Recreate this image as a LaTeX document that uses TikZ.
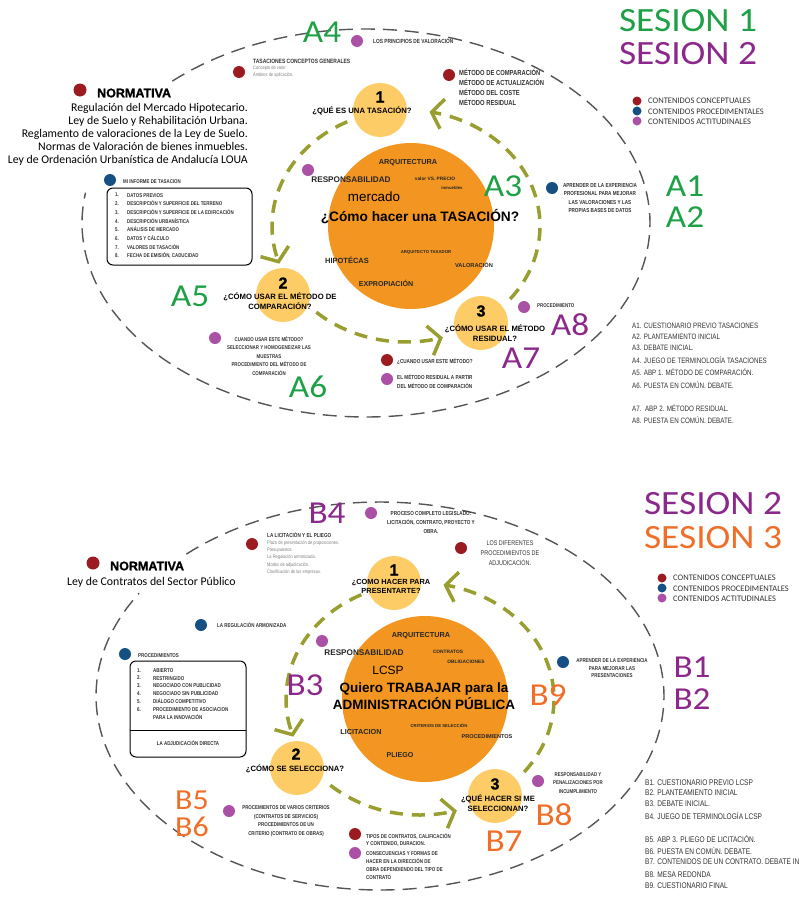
\documentclass[tikz,border=0pt]{standalone}
\usepackage{fontspec}
\setmainfont{Liberation Sans}
\newfontfamily\narf{Liberation Sans}[FakeStretch=0.8]
\newfontfamily\calf{Carlito}
\newfontfamily\handf{Carlito}[FakeStretch=1.1]
\newfontfamily\blackf{Liberation Sans Bold}[FakeBold=1.2]
\usetikzlibrary{arrows.meta}
\definecolor{dred}{RGB}{155,27,32}
\definecolor{dblue}{RGB}{22,80,130}
\definecolor{dpurp}{RGB}{170,80,165}
\definecolor{yel}{RGB}{253,204,102}
\definecolor{orng}{RGB}{243,150,33}
\definecolor{olivec}{RGB}{152,158,48}
\definecolor{hgreen}{RGB}{30,160,70}
\definecolor{hpurp}{RGB}{140,40,140}
\definecolor{horange}{RGB}{240,110,40}
\definecolor{ellgray}{RGB}{85,85,85}
\definecolor{txtg}{RGB}{50,50,50}
\newcommand\fsz[2]{\fontsize{#1}{#2}\selectfont}
\tikzset{
 dotc/.style={circle,inner sep=0pt,minimum size=12pt},
 rdot/.style={dotc,fill=dred}, bdot/.style={dotc,fill=dblue}, pdot/.style={dotc,fill=dpurp},
 ldot/.style={minimum size=9pt},
 hw/.style={font=\handf\fsz{32}{32}, inner sep=0pt, text height=20.5pt, text depth=0pt},
 hws/.style={font=\handf\fsz{29}{29}, inner sep=0pt, text height=18.6pt, text depth=0pt},
 sesion/.style={font=\handf\fsz{34}{34}, inner sep=0pt, text height=21.9pt, text depth=0pt},
 lbl/.style={font=\narf\bfseries\fsz{6}{8.5}, inner sep=0pt, align=left, anchor=west, text=txtg},
 clbl/.style={font=\narf\bfseries\fsz{6}{8.5}, inner sep=0pt, align=center, text=txtg},
 greyt/.style={font=\narf\fsz{5}{7.4}, text=gray, inner sep=0pt, align=left, anchor=west},
 wrd/.style={font=\bfseries\fsz{7.3}{9}, inner sep=0pt, text=black!85},
 qst/.style={font=\bfseries\fsz{7.7}{10}, inner sep=0pt, align=center},
 numl/.style={font=\blackf\fsz{16}{16}, inner sep=0pt},
 smallc/.style={circle, fill=yel, minimum size=54pt, inner sep=0pt},
 bigc/.style={circle, fill=orng, minimum size=166pt, inner sep=0pt},
 outerell/.style={draw=ellgray, line width=1.4pt, dash pattern=on 14pt off 8pt},
 flow/.style={draw=olivec, line width=3.5pt, dash pattern=on 13pt off 9pt, -{Straight Barb[length=11pt,width=30pt]}},
 legt/.style={font=\calf\fsz{8.5}{10}, anchor=west, inner sep=0pt, text=txtg},
 listt/.style={font=\narf\fsz{7.8}{9}, anchor=west, inner sep=0pt, text=txtg},
 normt/.style={font=\calf\fsz{11.8}{13}, anchor=base east, inner sep=0pt},
 normh/.style={font=\blackf\fsz{12.5}{13}, anchor=west, inner sep=0pt},
}
\begin{document}
\begin{tikzpicture}[x=1pt,y=-1pt]
\useasboundingbox (0,0) rectangle (799,899);
% ================= TOP =================
\draw[outerell] plot[domain=227:549,samples=200,variable=\t] ({366+284*cos(\t)},{223+194*sin(\t)});
\draw[flow] plot[domain=0:1,samples=60,variable=\s] ({406+134*cos(244-83*\s)},{226+116*sin(244-83*\s)});
\draw[flow] plot[domain=0:1,samples=60,variable=\s] ({406+134*cos(132-58*\s)},{226+116*sin(132-58*\s)});
\draw[flow] plot[domain=0:1,samples=80,variable=\s] ({406+134*cos(39-119*\s)},{226+116*sin(39-119*\s)});
\node[bigc] (coreA) at (411,226) {};
\node[smallc] (a1) at (380,110) {};
\node[smallc] (a2) at (283,295) {};
\node[smallc] (a3) at (481,323) {};
\node[numl] (a1n) at (380,97) {1};
\node[qst] (a1q) at (362,111) {¿QUÉ ES UNA TASACIÓN?};
\node[numl] (a2n) at (283,283) {2};
\node[qst] (a2q) at (280,301.5) {¿CÓMO USAR EL MÉTODO DE\\COMPARACIÓN?};
\node[numl] (a3n) at (481,311) {3};
\node[qst] (a3q) at (495,333.5) {¿CÓMO USAR EL MÉTODO\\RESIDUAL?};
% words in core
\node[wrd] (aw1) at (408,163) {ARQUITECTURA};
\node[wrd,font=\bfseries\fsz{8.2}{9}] (aw2) at (351,180) {RESPONSABILIDAD};
\node[wrd,font=\bfseries\fsz{4.8}{5}] (aw3) at (435,179) {valor VS. PRECIO};
\node[wrd,font=\bfseries\fsz{4.3}{5}] (aw4) at (452,188) {inmuebles};
\node[inner sep=0pt,font=\fsz{13.4}{14}] (aw5) at (374,197) {mercado};
\node[inner sep=0pt,font=\bfseries\fsz{13.7}{14}] (aw6) at (420,217) {¿Cómo hacer una TASACIÓN?};
\node[wrd,font=\bfseries\fsz{4.3}{5}] (aw7) at (426,252) {ARQUITECTO TASADOR};
\node[wrd,font=\bfseries\fsz{7.5}{9}] (aw8) at (347,260) {HIPOTÉCAS};
\node[wrd,font=\bfseries\fsz{5.7}{7}] (aw9) at (474,265) {VALORACIÓN};
\node[wrd,font=\bfseries\fsz{7.1}{9}] (aw10) at (386,283) {EXPROPIACIÓN};
% dots and labels
\node[pdot] (ad1) at (357,41) {};
\node[lbl] (al1) at (373,41) {LOS PRINCIPIOS DE VALORACIÓN};
\node[rdot] (ad2) at (239,72) {};
\node[lbl,font=\narf\bfseries\fsz{6.2}{8}] (al2) at (253,61) {TASACIONES CONCEPTOS GENERALES};
\node[greyt] (al2b) at (253,72) {Concepto de valor\\Ámbitos de aplicación.};
\node[rdot,minimum size=13pt] (ad3) at (80,90) {};
\node[normh] (anorm) at (97,93) {NORMATIVA};
\node[normt] (an1) at (248,111) {Regulación del Mercado Hipotecario.};
\node[normt] (an2) at (248,124) {Ley de Suelo y Rehabilitación Urbana.};
\node[normt] (an3) at (248,137) {Reglamento de valoraciones de la Ley de Suelo.};
\node[normt] (an4) at (248,150) {Normas de Valoración de bienes inmuebles.};
\node[normt] (an5) at (248,163) {Ley de Ordenación Urbanística de Andalucía LOUA};
\node[rdot] (ad4) at (449,75) {};
\node[lbl,font=\narf\bfseries\fsz{7.3}{10}] (al4) at (459,87) {MÉTODO DE COMPARACIÓN\\MÉTODO DE ACTUALIZACIÓN\\MÉTODO DEL COSTE\\MÉTODO RESIDUAL};
\node[rdot,ldot] (alg1) at (637,101) {};
\node[bdot,ldot] (alg2) at (637,111) {};
\node[pdot,ldot] (alg3) at (637,121) {};
\node[legt] (alt1) at (648,101) {CONTENIDOS CONCEPTUALES};
\node[legt] (alt2) at (648,111.5) {CONTENIDOS PROCEDIMENTALES};
\node[legt] (alt3) at (648,122) {CONTENIDOS ACTITUDINALES};
\node[sesion,text=hgreen] (as1) at (688,21) {SESION 1};
\node[sesion,text=hpurp] (as2) at (688,54) {SESION 2};
\node[hw,text=hgreen] (hA4) at (322,32) {A4};
\node[hw,text=hgreen] (hA3) at (503,186) {A3};
\node[hw,text=hgreen] (hA1) at (685,186) {A1};
\node[hw,text=hgreen] (hA2) at (685,217) {A2};
\node[hw,text=hgreen] (hA5) at (190,296) {A5};
\node[hw,text=hgreen] (hA6) at (308,387) {A6};
\node[hw,text=hpurp] (hA7) at (521,358) {A7};
\node[hw,text=hpurp] (hA8) at (570,325) {A8};
\node[pdot] (ad5) at (308,170) {};
\node[bdot] (ad6) at (552,188) {};
\node[clbl,font=\narf\bfseries\fsz{5.8}{8.3}] (al6) at (600,198) {APRENDER DE LA EXPERIENCIA\\PROFESIONAL PARA MEJORAR\\LAS VALORACIONES Y LAS\\PROPIAS BASES DE DATOS};
\node[bdot] (ad7) at (110,180) {};
\node[lbl,font=\narf\bfseries\fsz{5.5}{8}] (al7) at (123,182) {MI INFORME DE TASACION};
\draw[line width=1pt,rounded corners=6pt] (107,188) rectangle (252,265);
\node[lbl,font=\narf\bfseries\fsz{5.5}{8.7},anchor=north west] (al7n) at (115,193) {1.\\2.\\3.\\4.\\5.\\6.\\7.\\8.};
\node[lbl,font=\narf\bfseries\fsz{5.5}{8.7},anchor=north west] (al7t) at (127,193) {DATOS PREVIOS\\DESCRIPCIÓN Y SUPERFICIE DEL TERRENO\\DESCRIPCIÓN Y SUPERFICIE DE LA EDIFICACIÓN\\DESCRIPCIÓN URBANÍSTICA\\ANÁLISIS DE MERCADO\\DATOS Y CÁLCULO\\VALORES DE TASACIÓN\\FECHA DE EMISIÓN, CADUCIDAD};
\node[pdot] (ad8) at (215,338) {};
\node[clbl,font=\narf\bfseries\fsz{5.5}{8.5}] (al8) at (269,356) {CUANDO USAR ESTE MÉTODO?\\SELECCIONAR Y HOMOGENEIZAR LAS\\MUESTRAS\\PROCEDIMIENTO DEL MÉTODO DE\\COMPARACIÓN};
\node[rdot] (ad9) at (387,360) {};
\node[lbl,font=\narf\bfseries\fsz{5.8}{9}] (al9) at (397,361) {¿CUANDO USAR ESTE MÉTODO?};
\node[pdot] (ad10) at (387,379) {};
\node[lbl,font=\narf\bfseries\fsz{5.8}{9}] (al10) at (397,381.5) {EL MÉTODO RESIDUAL A PARTIR\\DEL MÉTODO DE COMPARACIÓN};
\node[pdot] (ad11) at (524,307) {};
\node[lbl,font=\narf\bfseries\fsz{5.5}{8}] (al11) at (537,306) {PROCEDIMIENTO};
\node[listt] (aL1) at (632,326) {A1. CUESTIONARIO PREVIO TASACIONES};
\node[listt] (aL2) at (632,337) {A2. PLANTEAMIENTO INICIAL};
\node[listt] (aL3) at (632,348) {A3. DEBATE INICIAL.};
\node[listt] (aL4) at (632,360) {A4. JUEGO DE TERMINOLOGÍA TASACIONES};
\node[listt] (aL5) at (632,372) {A5. ABP 1. MÉTODO DE COMPARACIÓN.};
\node[listt] (aL6) at (632,385) {A6. PUESTA EN COMÚN. DEBATE.};
\node[listt] (aL7) at (632,408) {A7.\ \ ABP 2. MÉTODO RESIDUAL.};
\node[listt] (aL8) at (632,420) {A8. PUESTA EN COMÚN. DEBATE.};
% ================= BOTTOM =================
\draw[outerell] plot[domain=227:572,samples=200,variable=\t] ({380+284*cos(\t)},{696+194*sin(\t)});
\draw[flow] plot[domain=0:1,samples=60,variable=\s] ({420+134*cos(244-83*\s)},{699+116*sin(244-83*\s)});
\draw[flow] plot[domain=0:1,samples=60,variable=\s] ({420+134*cos(132-58*\s)},{699+116*sin(132-58*\s)});
\draw[flow] plot[domain=0:1,samples=80,variable=\s] ({420+134*cos(39-119*\s)},{699+116*sin(39-119*\s)});
\node[bigc] (coreB) at (425,699) {};
\node[smallc] (b1) at (394,583) {};
\node[smallc] (b2) at (297,768) {};
\node[smallc] (b3) at (495,796) {};
\node[numl] (b1n) at (394,570) {1};
\node[qst,font=\bfseries\fsz{7.4}{9}] (b1q) at (391,586.5) {¿COMO HACER PARA\\PRESENTARTE?};
\node[numl] (b2n) at (296,754) {2};
\node[qst] (b2q) at (295,769) {¿CÓMO SE SELECCIONA?};
\node[numl] (b3n) at (495,784) {3};
\node[qst] (b3q) at (498,803.5) {¿QUÉ HACER SI ME\\SELECCIONAN?};
\node[wrd] (bw1) at (421,636) {ARQUITECTURA};
\node[wrd,font=\bfseries\fsz{8.2}{9}] (bw2) at (364,653) {RESPONSABILIDAD};
\node[wrd,font=\bfseries\fsz{4.8}{5}] (bw3) at (448,652) {CONTRATOS};
\node[wrd,font=\bfseries\fsz{4.8}{5}] (bw4) at (466,662) {OBLIGACIONES};
\node[inner sep=0pt,font=\fsz{12}{13}] (bw5) at (388,670) {LCSP};
\node[inner sep=0pt,font=\bfseries\fsz{13.5}{17},align=center] (bw6) at (424,696.5) {Quiero TRABAJAR para la\\ADMINISTRACIÓN PÚBLICA};
\node[wrd,font=\bfseries\fsz{4.3}{5}] (bw7) at (439,726) {CRITERIOS DE SELECCIÓN};
\node[wrd] (bw8) at (361,732) {LICITACION};
\node[wrd,font=\bfseries\fsz{5.6}{7}] (bw9) at (487,737) {PROCEDIMIENTOS};
\node[wrd,font=\bfseries\fsz{7.1}{9}] (bw10) at (400,755) {PLIEGO};
\node[pdot] (bd1) at (371,513) {};
\node[clbl,font=\narf\bfseries\fsz{5.8}{9}] (bl1) at (431,522) {PROCESO COMPLETO LEGISLADO:\\LICITACIÓN, CONTRATO, PROYECTO Y\\OBRA.};
\node[rdot] (bd2) at (252,544) {};
\node[lbl,font=\narf\bfseries\fsz{5.8}{8}] (bl2) at (267,535) {LA LICITACIÓN Y EL PLIEGO};
\node[greyt] (bl2b) at (267,557.5) {Plazo de presentación de proposiciones.\\Presupuestos.\\La Regulación armonizada.\\Modos de adjudicación.\\Clasificación de las empresas.};
\node[rdot,minimum size=13pt] (bd3) at (93,563) {};
\node[normh] (bnorm) at (110,566) {NORMATIVA};
\node[normt,anchor=base west] (bn1) at (67,585) {Ley de Contratos del Sector Público};
\node[rdot] (bd4) at (461,548) {};
\node[clbl,font=\narf\fsz{6.8}{10}] (bl4) at (510,553) {LOS DIFERENTES\\PROCEDIMIENTOS DE\\ADJUDICACIÓN.};
\node[rdot,ldot] (blg1) at (662,578) {};
\node[bdot,ldot] (blg2) at (662,588) {};
\node[pdot,ldot] (blg3) at (662,598) {};
\node[legt] (blt1) at (673,578) {CONTENIDOS CONCEPTUALES};
\node[legt] (blt2) at (673,588.5) {CONTENIDOS PROCEDIMENTALES};
\node[legt] (blt3) at (673,599) {CONTENIDOS ACTITUDINALES};
\node[sesion,text=hpurp] (bs1) at (713,504) {SESION 2};
\node[sesion,text=horange] (bs2) at (713,538) {SESION 3};
\node[hw,text=hpurp] (hB4) at (327,513) {B4};
\node[hw,text=hpurp] (hB3) at (305,685) {B3};
\node[hw,text=horange] (hB9) at (548,695) {B9};
\node[hw,text=hpurp] (hB1) at (692,667) {B1};
\node[hw,text=hpurp] (hB2) at (692,699) {B2};
\node[hws,text=horange] (hB5) at (192,800) {B5};
\node[hws,text=horange] (hB6) at (192,827) {B6};
\node[hw,text=horange] (hB7) at (504,841) {B7};
\node[hw,text=horange] (hB8) at (554,815) {B8};
\node[bdot] (bd5) at (201,625) {};
\node[lbl,font=\narf\bfseries\fsz{5.6}{8}] (bl5) at (217,625) {LA REGULACIÓN ARMONIZADA};
\node[pdot] (bd6) at (322,641) {};
\node[bdot] (bd7) at (125,654) {};
\node[lbl,font=\narf\bfseries\fsz{5.6}{8}] (bl7) at (138,656) {PROCEDIMIENTOS};
\draw[line width=1pt,rounded corners=6pt] (130,661) rectangle (246,757);
\draw[line width=1pt] (130,730) -- (246,730);
\node[lbl,font=\narf\bfseries\fsz{5.6}{7.9},anchor=north west] (bl7n) at (137,668) {1.\\2.\\3.\\4.\\5.\\6.};
\node[lbl,font=\narf\bfseries\fsz{5.6}{7.9},anchor=north west] (bl7t) at (153,668) {ABIERTO\\RESTRINGIDO\\NEGOCIADO CON PUBLICIDAD\\NEGOCIADO SIN PUBLICIDAD\\DIÁLOGO COMPETITIVO\\PROCEDIMIENTO DE ASOCIACION\\PARA LA INNOVACIÓN};
\node[clbl,font=\narf\bfseries\fsz{5.6}{8}] (bl7d) at (188,743) {LA ADJUDICACIÓN DIRECTA};
\node[bdot] (bd8) at (563,662) {};
\node[clbl,font=\narf\bfseries\fsz{5.6}{7.5}] (bl8) at (612,668.5) {APRENDER DE LA EXPERIENCIA\\PARA MEJORAR LAS\\PRESENTACIONES};
\node[pdot] (bd9) at (229,811) {};
\node[clbl,font=\narf\bfseries\fsz{5.6}{8.7}] (bl9) at (286,821) {PROCEMIENTOS DE VARIOS CRITERIOS\\(CONTRATOS DE SERVICIOS)\\PROCEDIMIENTOS DE UN\\CRITERIO (CONTRATO DE OBRAS)};
\node[rdot] (bd10) at (355,834) {};
\node[lbl,font=\narf\bfseries\fsz{5.6}{7.8}] (bl10) at (366,840) {TIPOS DE CONTRATOS, CALIFICACIÓN\\Y CONTENIDO, DURACION.};
\node[pdot] (bd11) at (355,853) {};
\node[lbl,font=\narf\bfseries\fsz{5.6}{8}] (bl11) at (366,866) {CONSECUENCIAS Y FORMAS DE\\HACER EN LA DIRECCIÓN DE\\OBRA DEPENDIENDO DEL TIPO DE\\CONTRATO};
\node[pdot] (bd12) at (538,781) {};
\node[clbl,font=\narf\bfseries\fsz{5.5}{8.4}] (bl12) at (578,783) {RESPONSABILIDAD Y\\PENALIZACIONES POR\\INCUMPLIMIENTO};
\node[listt,font=\narf\fsz{8.2}{9}] (bL1) at (645,783) {B1. CUESTIONARIO PREVIO LCSP};
\node[listt,font=\narf\fsz{8.2}{9}] (bL2) at (645,793) {B2. PLANTEAMIENTO INICIAL};
\node[listt,font=\narf\fsz{8.2}{9}] (bL3) at (645,804) {B3. DEBATE INICIAL.};
\node[listt,font=\narf\fsz{8.2}{9}] (bL4) at (645,816) {B4. JUEGO DE TERMINOLOGÍA LCSP};
\node[listt,font=\narf\fsz{8.2}{9}] (bL5) at (645,839) {B5. ABP 3. PLIEGO DE LICITACIÓN.};
\node[listt,font=\narf\fsz{8.2}{9}] (bL6) at (645,851) {B6. PUESTA EN COMÚN. DEBATE.};
\node[listt,font=\narf\fsz{8.2}{9}] (bL7) at (645,862) {B7. CONTENIDOS DE UN CONTRATO. DEBATE IN};
\node[listt,font=\narf\fsz{8.2}{9}] (bL8) at (645,875) {B8. MESA REDONDA};
\node[listt,font=\narf\fsz{8.2}{9}] (bL9) at (645,886) {B9. CUESTIONARIO FINAL};
\end{tikzpicture}
\end{document}
